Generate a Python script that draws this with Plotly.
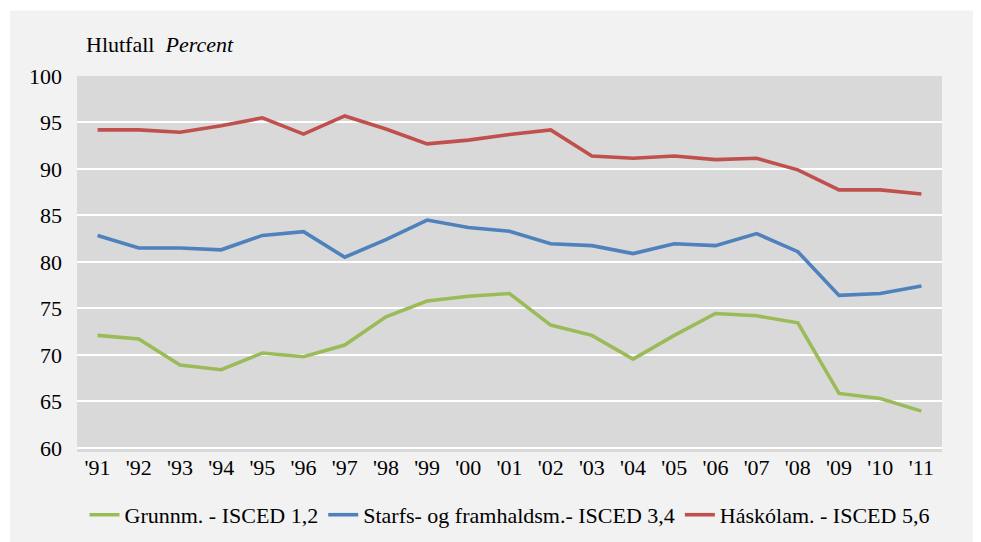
import plotly.graph_objects as go

years = ["'91", "'92", "'93", "'94", "'95", "'96", "'97", "'98", "'99", "'00", "'01",
         "'02", "'03", "'04", "'05", "'06", "'07", "'08", "'09", "'10", "'11"]

grunn = [72.1, 71.7, 68.9, 68.4, 70.2, 69.8, 71.05, 74.1, 75.8, 76.3, 76.6,
         73.2, 72.1, 69.55, 72.1, 74.45, 74.2, 73.45, 65.85, 65.3, 63.95]
starfs = [82.85, 81.5, 81.5, 81.3, 82.85, 83.25, 80.5, 82.4, 84.5, 83.7, 83.3,
          81.95, 81.75, 80.9, 81.95, 81.75, 83.05, 81.1, 76.4, 76.6, 77.4]
haskola = [94.2, 94.2, 93.95, 94.65, 95.5, 93.75, 95.7, 94.3, 92.7, 93.1, 93.7,
           94.2, 91.4, 91.15, 91.4, 91.0, 91.15, 89.9, 87.75, 87.75, 87.3]

names = ["Grunnm. - ISCED 1,2", "Starfs- og framhaldsm.- ISCED 3,4", "Háskólam. - ISCED 5,6"]
colors = ["#9BBB59", "#4F81BD", "#C0504D"]
y_ticks = [60, 65, 70, 75, 80, 85, 90, 95, 100]

# page has an 8px body margin; work in page pixels and subtract it
OFF = 8
W, H = 981 - OFF, 542 - OFF
ml, mr, mt, mb = 77 - OFF, 39, 75.5 - OFF, 90
pw, ph = W - ml - mr, H - mt - mb

def px_x(p):
    return (p - OFF - ml) / pw

def px_y(p):
    return (H - mb - (p - OFF)) / ph

font = "Liberation Serif"
FS = 22

fig = go.Figure()
for vals, name, col in zip([grunn, starfs, haskola], names, colors):
    fig.add_trace(go.Scatter(x=years, y=vals, mode="lines", name=name,
                             line=dict(color=col, width=3.6)))

fig.update_layout(
    width=W, height=H,
    margin=dict(l=ml, r=mr, t=mt, b=mb, autoexpand=False),
    paper_bgcolor="#F2F2F2",
    plot_bgcolor="#D9D9D9",
    font=dict(family=font, size=FS, color="#000000"),
    showlegend=True,
    legend=dict(orientation="h", x=0.5, xanchor="center", y=px_y(515), yanchor="middle",
                font=dict(family=font, size=FS), bgcolor="rgba(0,0,0,0)",
                itemwidth=30, tracegroupgap=0),
    xaxis=dict(type="category", range=[-0.5, 20.5], showgrid=False, zeroline=False,
               showline=False, ticks="", tickfont=dict(family=font, size=FS)),
    yaxis=dict(range=[59.55, 100], tickvals=y_ticks, showgrid=True, gridcolor="#FFFFFF",
               gridwidth=2, zeroline=False, showline=False, ticks="",
               ticklabelstandoff=14, tickfont=dict(family=font, size=FS)),
    annotations=[dict(text="Hlutfall  <i>Percent</i>", xref="paper", yref="paper",
                      x=px_x(84), y=px_y(44), xanchor="left", yanchor="middle",
                      showarrow=False, font=dict(family=font, size=FS))],
    shapes=[
        dict(type="rect", xref="paper", yref="paper", x0=px_x(-20), x1=px_x(1000),
             y0=px_y(10), y1=px_y(-20), fillcolor="#FFFFFF", line=dict(width=0), layer="below"),
        dict(type="rect", xref="paper", yref="paper", x0=px_x(-20), x1=px_x(10),
             y0=px_y(560), y1=px_y(-20), fillcolor="#FFFFFF", line=dict(width=0), layer="below"),
    ],
)

fig.write_html("out.html")
